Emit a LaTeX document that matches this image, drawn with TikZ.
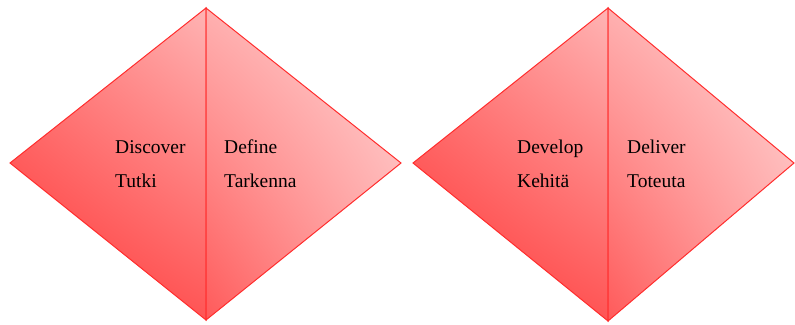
\documentclass[tikz,border=0pt]{standalone}
\usepackage{fontspec}
\setmainfont{Liberation Serif}
\usepackage{xcolor}
\usetikzlibrary{shadings}
\definecolor{edgered}{RGB}{255,45,45}
\definecolor{leftll}{RGB}{255,50,50}
\definecolor{leftul}{RGB}{255,130,130}
\definecolor{leftur}{RGB}{255,180,180}
\definecolor{leftlr}{RGB}{255,85,85}
\definecolor{rightll}{RGB}{255,90,90}
\definecolor{rightul}{RGB}{255,176,176}
\definecolor{rightur}{RGB}{255,215,215}
\definecolor{rightlr}{RGB}{255,165,165}

\tikzset{
  lefthalf/.style={draw=edgered, line width=1pt, line join=miter,
    lower left=leftll, upper left=leftul, upper right=leftur, lower right=leftlr},
  righthalf/.style={draw=edgered, line width=1pt, line join=miter,
    lower left=rightll, upper left=rightul, upper right=rightur, lower right=rightlr},
  phase/.style={align=left, anchor=base west, inner sep=0pt,
    font=\fontsize{19.5}{34}\selectfont}
}

\begin{document}
\begin{tikzpicture}[x=1pt,y=-1pt]
\useasboundingbox (0,0) rectangle (795,324);
% first diamond
\coordinate (disc_l) at (10,163);
\coordinate (disc_t) at (206,8);
\coordinate (disc_b) at (206,320);
\coordinate (disc_r) at (401,163);
\path[lefthalf] (disc_l) -- (disc_t) -- (disc_b) -- cycle;
\path[righthalf] (disc_t) -- (disc_r) -- (disc_b) -- cycle;
% second diamond
\coordinate (dev_l) at (413,163);
\coordinate (dev_t) at (608,8);
\coordinate (dev_b) at (608,321);
\coordinate (dev_r) at (794,163);
\path[lefthalf] (dev_l) -- (dev_t) -- (dev_b) -- cycle;
\path[righthalf] (dev_t) -- (dev_r) -- (dev_b) -- cycle;

% last baseline at 187
\node[phase] (discover) at (115,187) {Discover\\Tutki};
\node[phase] (define) at (224,187) {Define\\Tarkenna};
\node[phase] (develop) at (517,187) {Develop\\Kehitä};
\node[phase] (deliver) at (627,187) {Deliver\\Toteuta};
\end{tikzpicture}
\end{document}
